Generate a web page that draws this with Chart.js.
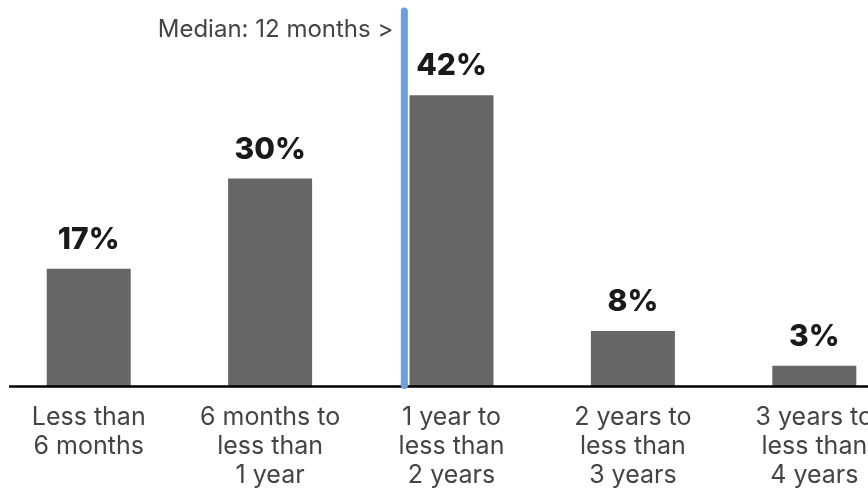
<!DOCTYPE html>
<html>
<head>
<meta charset="utf-8">
<script src="https://cdn.jsdelivr.net/npm/chart.js@4.4.0/dist/chart.umd.min.js"></script>
<style>
  html, body { margin: 0; padding: 0; background: #fff; overflow: hidden; }
  #wrap { position: absolute; left: -2px; top: 0; width: 907px; height: 496px; }
</style>
</head>
<body>
<div id="wrap"><canvas id="chart"></canvas></div>
<script>
// chart data
const categories = [
  ["Less than", "6 months"],
  ["6 months to", "less than", "1 year"],
  ["1 year to", "less than", "2 years"],
  ["2 years to", "less than", "3 years"],
  ["3 years to", "less than", "4 years"]
];
const shares = [17, 30, 42, 8, 3];
const medianLabel = "Median: 12 months >";
const medianPosition = 1.74; // in category index units, just left of the 3rd bar

// value labels above the bars + median line + baseline
const overlay = {
  id: "overlay",
  afterDatasetsDraw(chart) {
    const ctx = chart.ctx;
    const area = chart.chartArea;
    const x = chart.scales.x;
    const y = chart.scales.y;
    const zero = y.getPixelForValue(0);

    // baseline
    ctx.save();
    ctx.strokeStyle = "#000";
    ctx.lineWidth = 2.5;
    ctx.beginPath();
    ctx.moveTo(area.left + 11, zero);
    ctx.lineTo(area.right, zero);
    ctx.stroke();

    // median line
    const mx = x.getPixelForValue(medianPosition);
    ctx.strokeStyle = "#6aa0dc";
    ctx.lineWidth = 7;
    ctx.lineCap = "round";
    ctx.beginPath();
    ctx.moveTo(mx, area.top + 3);
    ctx.lineTo(mx, zero - 1);
    ctx.stroke();
    ctx.lineCap = "butt";
    ctx.fillStyle = "#6aa0dc";
    ctx.fillRect(mx - 3.5, zero - 4, 7, 4);

    ctx.fillStyle = "#444";
    ctx.font = "24px Inter";
    ctx.textAlign = "right";
    ctx.textBaseline = "alphabetic";
    ctx.fillText(medianLabel, mx - 11, 37);

    // value labels
    const meta = chart.getDatasetMeta(0);
    ctx.fillStyle = "#1a1a1a";
    ctx.font = "800 30px Inter";
    ctx.textAlign = "center";
    meta.data.forEach((bar, i) => {
      ctx.fillText(shares[i] + "%", bar.x, bar.y - 20);
    });
    ctx.restore();
  }
};

new Chart(document.getElementById("chart"), {
  type: "bar",
  data: {
    labels: categories,
    datasets: [
      {
        data: shares,
        backgroundColor: "#666666",
        borderWidth: 0,
        categoryPercentage: 1,
        barPercentage: 0.463,
      },
    ],
  },
  options: {
    responsive: true,
    maintainAspectRatio: false,
    animation: false,
    layout: { padding: { top: 8, left: 0, right: 0, bottom: 0 } },
    plugins: { legend: { display: false }, tooltip: { enabled: false } },
    scales: {
      x: {
        grid: { display: false },
        border: { display: false },
        ticks: {
          color: "#444",
          font: { family: "Inter", size: 25, lineHeight: 1.17 },
          padding: 8,
          maxRotation: 0,
          autoSkip: false,
        },
        afterFit: (scale) => { scale.height = 109.5; },
      },
      y: {
        display: false,
        min: 0,
        max: 54.6,
      },
    },
  },
  plugins: [overlay],
});
</script>
</body>
</html>
